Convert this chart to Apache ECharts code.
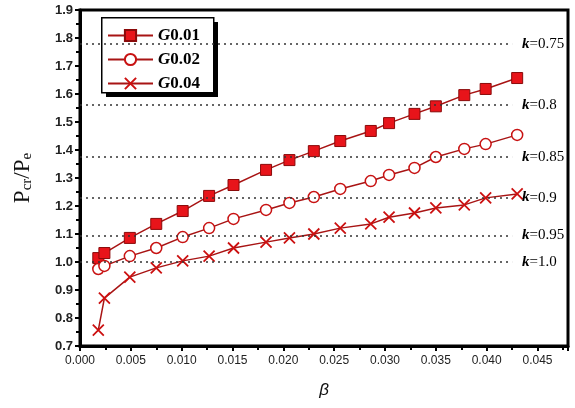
<!DOCTYPE html>
<html>
<head>
<meta charset="utf-8">
<title>Pcr/Pe vs beta</title>
<script src="https://cdn.jsdelivr.net/npm/echarts@6/dist/echarts.min.js"></script>
<style>
  html, body { margin: 0; padding: 0; background: #fff; }
  #chart { width: 575px; height: 408px; }
</style>
</head>
<body>
<div id="chart"></div>
<script>
// beta values (same for all three curves)
var betaValues = [0.0018, 0.0024, 0.0049, 0.0075, 0.0101, 0.0127, 0.0151, 0.0183, 0.0206,
                  0.0230, 0.0256, 0.0286, 0.0304, 0.0329, 0.0350, 0.0378, 0.0399, 0.0430];
var g001 = [1.014, 1.032, 1.086, 1.136, 1.182, 1.236, 1.275, 1.329, 1.364,
            1.396, 1.432, 1.468, 1.496, 1.529, 1.556, 1.596, 1.618, 1.657];
var g002 = [0.975, 0.986, 1.021, 1.050, 1.089, 1.121, 1.154, 1.186, 1.211,
            1.232, 1.261, 1.289, 1.311, 1.336, 1.375, 1.404, 1.421, 1.454];
var g004 = [0.757, 0.871, 0.946, 0.979, 1.004, 1.021, 1.050, 1.071, 1.086,
            1.100, 1.121, 1.136, 1.160, 1.175, 1.193, 1.204, 1.229, 1.243];
var seriesNames = ['G0.01', 'G0.02', 'G0.04'];

// dotted k reference lines
var kLabels = ['0.75', '0.8', '0.85', '0.9', '0.95', '1.0'];
var kLineValues = [1.778, 1.561, 1.376, 1.230, 1.095, 1.0];
var kLineEnd = 0.0425;

function pairs(ys) {
    return betaValues.map(function (b, i) { return [b, ys[i]]; });
}

var crossPath = 'path://M0,0L10,10M10,0L0,10';
var lineColor = '#a81414';

var kMarks = kLineValues.map(function (v, i) {
    return [
        { coord: [0, v], label: { formatter: '{k|k}{v|=' + kLabels[i] + '}' } },
        { coord: [kLineEnd, v] }
    ];
});

var chart = echarts.init(document.getElementById('chart'));
chart.setOption({
    animation: false,
    grid: { left: 80, right: 7, top: 10, bottom: 62, show: true, borderColor: '#000', borderWidth: 3 },
    // legend frame with its solid drop shadow
    graphic: {
        z: 3,
        elements: [
            { type: 'rect', left: 106, top: 22, shape: { width: 112, height: 75 }, style: { fill: '#000' } },
            { type: 'rect', left: 101, top: 17, shape: { width: 112, height: 75 },
              style: { fill: '#fff', stroke: '#000', lineWidth: 1.5 } }
        ]
    },
    legend: {
        left: 107, top: 27,
        orient: 'vertical',
        data: seriesNames,
        itemWidth: 45, itemHeight: 14, itemGap: 7,
        padding: 0,
        formatter: function (name) { return '{g|G}{n|' + name.slice(1) + '}'; },
        textStyle: {
            rich: {
                g: { fontFamily: 'Liberation Serif', fontStyle: 'italic', fontWeight: 'bold', fontSize: 17, color: '#000' },
                n: { fontFamily: 'Liberation Serif', fontWeight: 'bold', fontSize: 17, color: '#000' }
            }
        }
    },
    xAxis: {
        type: 'value', min: 0, max: 0.048, interval: 0.005,
        name: 'β', nameLocation: 'middle', nameGap: 36,
        nameTextStyle: { fontFamily: 'Liberation Sans', fontStyle: 'italic', fontSize: 17, color: '#111' },
        axisLine: { lineStyle: { color: '#000', width: 3 } },
        axisTick: { inside: false, length: 5, lineStyle: { color: '#000', width: 2 } },
        minorTick: { show: true, splitNumber: 2, length: 4, lineStyle: { color: '#000', width: 2 } },
        splitLine: { show: false },
        axisLabel: {
            showMaxLabel: false, margin: 9,
            fontFamily: 'Liberation Sans', fontSize: 12, color: '#222',
            formatter: function (v) { return v.toFixed(3); }
        }
    },
    yAxis: {
        type: 'value', min: 0.7, max: 1.9, interval: 0.1,
        name: '{p|P}{s|cr}{p|/P}{s|e}', nameLocation: 'middle', nameGap: 45,
        nameTextStyle: {
            rich: {
                p: { fontFamily: 'Liberation Serif', fontSize: 23, color: '#111' },
                s: { fontFamily: 'Liberation Serif', fontSize: 15, color: '#111', padding: [10, 0, 0, 0] }
            }
        },
        axisLine: { lineStyle: { color: '#000', width: 3 } },
        axisTick: { length: 5, lineStyle: { color: '#000', width: 2 } },
        minorTick: { show: true, splitNumber: 2, length: 4, lineStyle: { color: '#000', width: 2 } },
        splitLine: { show: false },
        axisLabel: {
            margin: 7,
            fontFamily: 'Liberation Sans', fontWeight: 'bold', fontSize: 13, color: '#222',
            formatter: function (v) { return v.toFixed(1); }
        }
    },
    series: [
        {
            name: seriesNames[0], type: 'line', data: pairs(g001),
            symbol: 'rect', symbolSize: 11,
            lineStyle: { color: lineColor, width: 1.5 },
            itemStyle: { color: '#e8141a', borderColor: '#8a0a0a', borderWidth: 1 },
            markLine: {
                silent: true, symbol: 'none',
                lineStyle: { color: '#333', type: [2, 4], width: 1.5 },
                label: {
                    position: 'end', distance: 10,
                    rich: {
                        k: { fontFamily: 'Liberation Serif', fontStyle: 'italic', fontWeight: 'bold', fontSize: 15, color: '#000' },
                        v: { fontFamily: 'Liberation Serif', fontSize: 15, color: '#000' }
                    }
                },
                data: kMarks
            }
        },
        {
            name: seriesNames[1], type: 'line', data: pairs(g002),
            symbol: 'circle', symbolSize: 11,
            lineStyle: { color: lineColor, width: 1.5 },
            itemStyle: { color: '#fff', borderColor: '#c81212', borderWidth: 1.5 }
        },
        {
            name: seriesNames[2], type: 'line', data: pairs(g004),
            symbol: crossPath, symbolSize: 11,
            lineStyle: { color: lineColor, width: 1.5 },
            itemStyle: { color: 'none', borderColor: '#cc1010', borderWidth: 1.8 }
        }
    ]
});
</script>
</body>
</html>
